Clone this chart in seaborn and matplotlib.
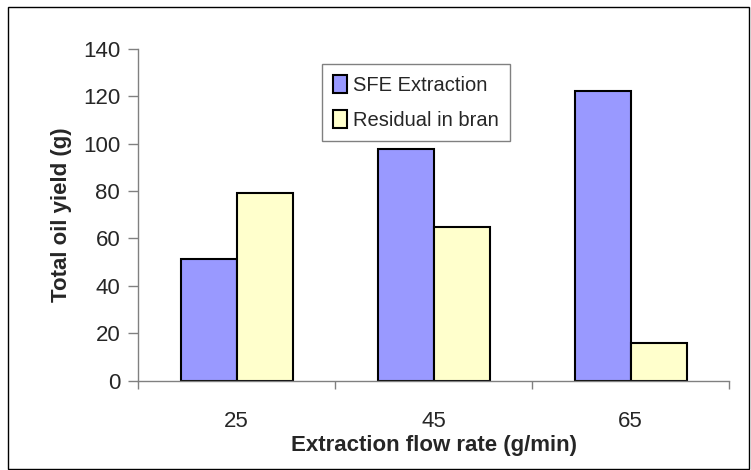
import seaborn as sns
import pandas as pd
import matplotlib.pyplot as plt
from matplotlib.patches import Rectangle

flow_rate = ['25', '45', '65']
sfe_extraction = [51.5, 97.8, 122.4]
residual_in_bran = [79.4, 64.9, 16.0]
series_names = ['SFE Extraction', 'Residual in bran']

df = pd.DataFrame({
    'rate': flow_rate * 2,
    'yield': sfe_extraction + residual_in_bran,
    'serie': [series_names[0]] * 3 + [series_names[1]] * 3,
})

sns.set_style('white')
plt.rcParams['font.family'] = ['Liberation Sans', 'DejaVu Sans']

fig = plt.figure(figsize=(7.51, 4.70), dpi=100)
ax = fig.add_axes([0.184, 0.19, 0.787, 0.706])

sns.barplot(data=df, x='rate', y='yield', hue='serie', order=flow_rate,
            hue_order=series_names, palette=['#9999FF', '#FFFFCC'],
            width=0.57, edgecolor='black', linewidth=1.5, saturation=1,
            ax=ax)

ax.set_ylim(0, 140)
ax.set_xlim(-0.5, 2.5)
ax.set_yticks(range(0, 141, 20))
ax.set_xticks([-0.5, 0.5, 1.5, 2.5], minor=True)
ax.tick_params(axis='x', which='major', length=0, labelsize=16, pad=22)
ax.tick_params(axis='x', which='minor', length=6, width=1, color='#808080', direction='out', bottom=True)
ax.tick_params(axis='y', length=7, width=1, color='#808080', direction='out', left=True,
               labelsize=16, pad=6)

for side in ['top', 'right']:
    ax.spines[side].set_visible(False)
for side in ['left', 'bottom']:
    ax.spines[side].set_color('#808080')
    ax.spines[side].set_linewidth(1)

ax.set_xlabel('Extraction flow rate (g/min)', fontsize=16, fontweight='bold', labelpad=2)
ax.set_ylabel('Total oil yield (g)', fontsize=16, fontweight='bold', labelpad=8)

leg = ax.legend(loc='upper left', bbox_to_anchor=(0.311, 0.955), frameon=True,
                fancybox=False, framealpha=1, fontsize=14.5, handlelength=0.7,
                handleheight=1.0, handletextpad=0.3, labelspacing=0.75,
                borderpad=0.55, borderaxespad=0)
leg.get_frame().set_edgecolor('#808080')
leg.get_frame().set_linewidth(1)
for h in leg.legend_handles:
    h.set_edgecolor('black')
    h.set_linewidth(1.5)

# outer chart border
fig.patches.append(Rectangle((0.011, 0.002), 0.987, 0.983, transform=fig.transFigure,
                             fill=False, edgecolor='black', linewidth=1))

fig.savefig('out.png', dpi=100)
